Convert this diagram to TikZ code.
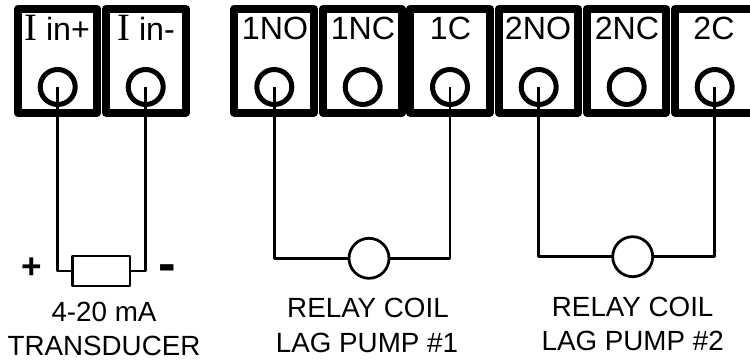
\documentclass[tikz,border=0pt]{standalone}
\usepackage{fontspec}
\setmainfont{Liberation Sans}
\newfontfamily\serifI{Liberation Serif}
\usepackage{tikz}
\tikzset{
    termbox/.style={rectangle,draw,line width=0.16cm,line join=round,minimum width=1.59cm,minimum height=2.07cm,inner sep=0pt,outer sep=0pt},
    terminal/.style={circle,draw,line width=0.1cm,minimum width=0.7cm,inner sep=0pt,outer sep=0pt},
    coil/.style={circle,draw,line width=0.055cm,minimum width=0.8cm,inner sep=0pt,outer sep=0pt},
    load/.style={rectangle,draw,line width=0.055cm,line join=round,minimum width=1.154cm,minimum height=0.6cm,inner sep=0pt,outer sep=0pt},
    wire/.style={line width=0.05cm,line join=round},
    toplabel/.style={anchor=base,inner sep=0pt,font=\fontsize{18.3}{18.3}\selectfont},
    botlabel/.style={anchor=base,inner sep=0pt,font=\fontsize{15.8}{15.8}\selectfont},
    polarity/.style={inner sep=0pt,font=\fontsize{20}{20}\selectfont\bfseries}
}
\begin{document}
\begin{tikzpicture}
                            \path[use as bounding box,clip] (0,0) rectangle (15,7.18);
                            \node[termbox] (iplus) at (1.15,5.965) {};
                            \node[termbox] (iminus) at (2.92,5.965) {};
                            \node[termbox] (noa) at (5.48,5.965) {};
                            \node[termbox] (nca) at (7.25,5.965) {};
                            \node[termbox] (ca) at (9,5.965) {};
                            \node[termbox] (nob) at (10.77,5.965) {};
                            \node[termbox] (ncb) at (12.53,5.965) {};
                            \node[termbox] (cb) at (14.3,5.965) {};
                            \node[toplabel] (iplustext) at (1.14,6.36) {{\serifI\fontsize{22}{22}\selectfont I} in+};
                            \node[toplabel] (iminustext) at (2.92,6.36) {{\serifI\fontsize{22}{22}\selectfont I} in-};
                            \node[toplabel] (notexta) at (5.5,6.38) {1NO};
                            \node[toplabel] (nctexta) at (7.26,6.38) {1NC};
                            \node[toplabel] (ctexta) at (9.01,6.38) {1C};
                            \node[toplabel] (notextb) at (10.76,6.38) {2NO};
                            \node[toplabel] (nctextb) at (12.54,6.38) {2NC};
                            \node[toplabel] (ctextb) at (14.28,6.38) {2C};
                            \node[terminal] (tiplus) at (1.154,5.44) {};
                            \node[terminal] (timinus) at (2.914,5.44) {};
                            \node[terminal] (tnoa) at (5.486,5.44) {};
                            \node[terminal] (tnca) at (7.254,5.44) {};
                            \node[terminal] (tca) at (9,5.44) {};
                            \node[terminal] (tnob) at (10.774,5.44) {};
                            \node[terminal] (tncb) at (12.534,5.44) {};
                            \node[terminal] (tcb) at (14.294,5.44) {};
                            \node[load] (transducer) at (2.023,1.76) {};
                            \node[coil] (coila) at (7.38,2.014) {};
                            \node[coil] (coilb) at (12.654,2.046) {};
                            \draw[wire] (tiplus.center) |- (transducer.west);
                            \draw[wire] (timinus.center) |- (transducer.east);
                            \draw[wire] (tnoa.center) |- (coila.west);
                            \draw[wire] (tca.center) |- (coila.east);
                            \draw[wire] (tnob.center) |- (coilb.west);
                            \draw[wire] (tcb.center) |- (coilb.east);
                            \node[polarity] (plus) at (0.634,1.82) {+};
                            \node[polarity,font=\fontsize{30}{30}\selectfont\bfseries] (minus) at (3.34,1.724) {-};
                            \node[botlabel] (rangetext) at (2.08,0.746) {4-20 mA};
                            \node[botlabel] (transtext) at (2.08,0.08) {TRANSDUCER};
                            \node[botlabel] (relaytexta) at (7.36,0.84) {RELAY COIL};
                            \node[botlabel] (pumptexta) at (7.34,0.14) {LAG PUMP \#1};
                            \node[botlabel] (relaytextb) at (12.654,0.846) {RELAY COIL};
                            \node[botlabel] (pumptextb) at (12.654,0.166) {LAG PUMP \#2};
                        \end{tikzpicture}
\end{document}
